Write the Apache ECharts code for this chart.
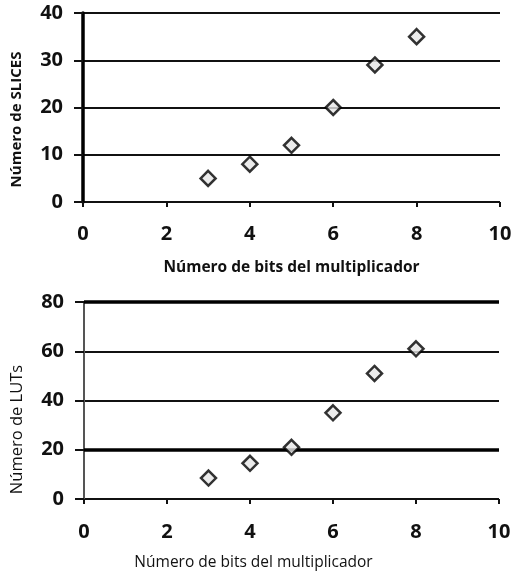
<!DOCTYPE html>
<html><head><meta charset="utf-8">
<script src="https://cdn.jsdelivr.net/npm/echarts@6/dist/echarts.min.js"></script>
<style>html,body{margin:0;padding:0;background:#fff}#c{width:524px;height:578px}</style>
</head><body><div id="c"></div>
<script>
const bits = [3, 4, 5, 6, 7, 8];
const slices = [5, 8, 12, 20, 29, 35];
const luts = [8.5, 14.5, 21, 35, 51, 61];
const thickLutGrid = [20, 80];
const xTitle = 'Número de bits del multiplicador';
const yTitleTop = 'Número de SLICES';
const yTitleBottom = 'Número de LUTs';

const font = '"Open Sans", "Liberation Sans", sans-serif';
const chart = echarts.init(document.getElementById('c'));
function xAxis(gi, bold, size, gap, pad, lblMargin) {
  return {
    type: 'value', gridIndex: gi, min: 0, max: 10, interval: 2,
    name: xTitle, nameLocation: 'middle', nameGap: gap,
    nameTextStyle: {fontFamily: font, fontSize: size, fontWeight: bold ? 'bold' : 'normal', color: '#111', padding: pad},
    axisLine: {show: false},
    axisTick: {show: true, length: 5, lineStyle: {color: '#111', width: 2}},
    axisLabel: {fontFamily: font, fontSize: 20, fontWeight: 'bold', color: '#111', margin: lblMargin},
    splitLine: {show: false}
  };
}
function yAxis(gi, max, interval, bold, size, gap, name, pad, axW, axC) {
  return {
    type: 'value', gridIndex: gi, min: 0, max: max, interval: interval,
    name: name, nameLocation: 'middle', nameGap: gap, nameRotate: 90,
    nameTextStyle: {fontFamily: font, fontSize: size, fontWeight: bold ? 'bold' : 'normal', color: '#111', padding: pad},
    axisLine: {show: true, lineStyle: {color: axC, width: axW}},
    axisTick: {show: true, length: 9, lineStyle: {color: '#111', width: 2}},
    axisLabel: {fontFamily: font, fontSize: 20, fontWeight: 'bold', color: '#111', margin: 20},
    splitLine: {show: true, lineStyle: {color: '#111', width: 2.2}}
  };
}
chart.setOption({
  animation: false,
  grid: [
    {left: 83, right: 24, top: 13, height: 189},
    {left: 84, right: 25, top: 302, height: 197}
  ],
  xAxis: [xAxis(0, true, 15.5, 58, 0, 22), xAxis(1, false, 15.5, 56, [0, 76, 0, 0], 23)],
  yAxis: [
    yAxis(0, 40, 10, true, 15, 59, yTitleTop, [0, 24, 0, 0], 3.5, '#000'),
    yAxis(1, 80, 20, false, 16.5, 58, yTitleBottom, [0, 58, 0, 0], 2, '#555')
  ],
  series: [
    {type: 'scatter', xAxisIndex: 1, yAxisIndex: 1, z: 1, data: [],
     markLine: {silent: true, symbol: 'none', label: {show: false},
       lineStyle: {color: '#000', width: 3.5, type: 'solid'},
       data: thickLutGrid.map(v => ({yAxis: v}))}},
    {type: 'scatter', xAxisIndex: 0, yAxisIndex: 0, z: 5, symbol: 'diamond', symbolSize: 15,
     itemStyle: {color: '#e6e6e6', borderColor: '#000', borderWidth: 2.5},
     data: bits.map((b, i) => [b, slices[i]])},
    {type: 'scatter', xAxisIndex: 1, yAxisIndex: 1, z: 5, symbol: 'diamond', symbolSize: 15,
     itemStyle: {color: '#e6e6e6', borderColor: '#000', borderWidth: 2.5},
     data: bits.map((b, i) => [b, luts[i]])}
  ]
});
</script></body></html>
